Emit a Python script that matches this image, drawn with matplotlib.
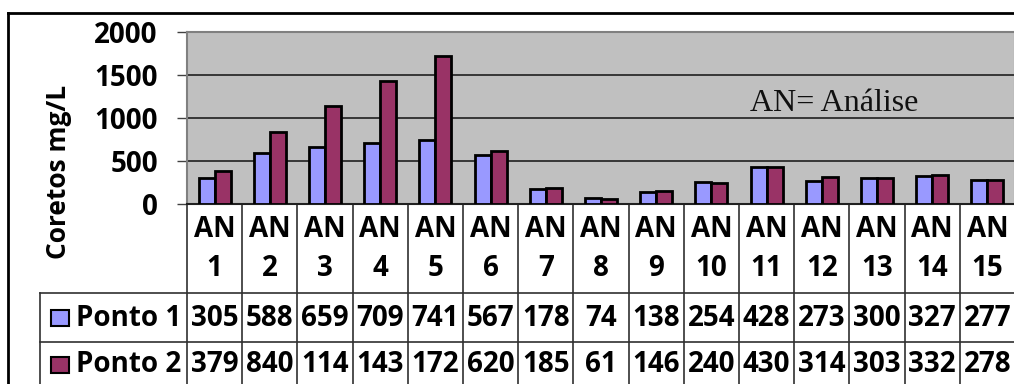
import matplotlib.pyplot as plt
from matplotlib.patches import Rectangle
import matplotlib.transforms as mtransforms

categories = [f"AN\n{i}" for i in range(1, 16)]
ponto1 = [305, 588, 659, 709, 741, 567, 178, 74, 138, 254, 428, 273, 300, 327, 277]
ponto2 = [379, 840, 1143, 1432, 1720, 620, 185, 61, 146, 240, 430, 314, 303, 332, 278]
series_names = ["Ponto 1", "Ponto 2"]
colors = ["#9999FF", "#993366"]

W, H = 1014, 384
fig = plt.figure(figsize=(W / 100, H / 100), dpi=100)
fig.patch.set_facecolor("white")

# plot area in pixel terms
left, right, top, bottom = 187, 1015, 32, 204
ax = fig.add_axes([left / W, 1 - bottom / H, (right - left) / W, (bottom - top) / H])
ax.set_facecolor("#C0C0C0")

font = "Open Sans"
fs = 20

n = len(categories)
x = list(range(n))
bw = 0.29
ax.bar([i - bw / 2 for i in x], ponto1, width=bw, color=colors[0],
       edgecolor="black", linewidth=2, zorder=3)
ax.bar([i + bw / 2 for i in x], ponto2, width=bw, color=colors[1],
       edgecolor="black", linewidth=2, zorder=3)

ax.set_xlim(-0.5, n - 0.5)
ax.set_ylim(0, 2000)
ax.set_yticks([0, 500, 1000, 1500, 2000])
ax.set_xticks([])
ax.grid(axis="y", color="#202020", linewidth=1.2, zorder=1)
ax.tick_params(axis="y", length=7, width=1, color="#404040", pad=14)
for lbl in ax.get_yticklabels():
    lbl.set_fontfamily(font)
    lbl.set_fontweight("bold")
    lbl.set_fontsize(fs)
for side in ["top", "left", "right", "bottom"]:
    ax.spines[side].set_color("#808080")
    ax.spines[side].set_linewidth(1.5)
ax.spines["bottom"].set_color("#202020")

ax.text(0.782, 0.585, "AN= Análise", transform=ax.transAxes, ha="center", va="center",
        fontfamily="Liberation Serif", fontsize=23, color="#101010", zorder=4)

# data table under the axis, x in data units, y in axes units
px = 1.0 / (bottom - top)
def ay(py):
    return (bottom - py) * px

tr = mtransforms.blended_transform_factory(ax.transData, ax.transAxes)
line_kw = dict(color="#303030", linewidth=1.2, clip_on=False)

row_lines = [293, 342]
label_left = (40 - left) / (right - left)
for py in row_lines:
    ax.plot([label_left, 1.0], [ay(py), ay(py)], transform=ax.transAxes, **line_kw)
ax.plot([label_left, label_left], [ay(293), ay(H + 5)], transform=ax.transAxes, **line_kw)
ax.plot([0, 0], [0, ay(H + 5)], transform=ax.transAxes, **line_kw)
for i in range(1, n):
    ax.plot([i - 0.5, i - 0.5], [0, ay(H + 5)], transform=tr, **line_kw)

for i, cat in enumerate(categories):
    ax.text(i, ay(249), cat, transform=tr, ha="center", va="center", fontfamily=font,
            fontweight="bold", fontsize=fs, linespacing=1.45, clip_on=False)

row_centers = [318, 365]
for vals, name, c, yc in zip([ponto1, ponto2], series_names, colors, row_centers):
    for i, v in enumerate(vals):
        # the cells are too narrow for four digits, only the first three show
        ax.text(i, ay(yc), str(v)[:3], transform=tr, ha="center", va="center",
                fontfamily=font, fontweight="bold", fontsize=fs, clip_on=False)
    ax.text((76 - left) / (right - left), ay(yc), name, transform=ax.transAxes,
            ha="left", va="center", fontfamily=font, fontweight="bold",
            fontsize=fs, clip_on=False)
    fig.patches.append(Rectangle((51 / W, 1 - (yc + 8) / H), 18 / W, 16 / H,
                                 transform=fig.transFigure, facecolor=c,
                                 edgecolor="black", linewidth=1.5))

fig.text(58 / W, 1 - 172 / H, "Coretos mg/L", rotation=90, ha="center", va="center",
         fontfamily=font, fontweight="bold", fontsize=19)

# outer chart frame
fig.add_artist(plt.Line2D([8 / W, 8 / W], [0, 1 - 13 / H], color="black", linewidth=2,
                          transform=fig.transFigure))
fig.add_artist(plt.Line2D([8 / W, 1], [1 - 13 / H, 1 - 13 / H], color="black", linewidth=2,
                          transform=fig.transFigure))

fig.savefig("out.png", dpi=100)
